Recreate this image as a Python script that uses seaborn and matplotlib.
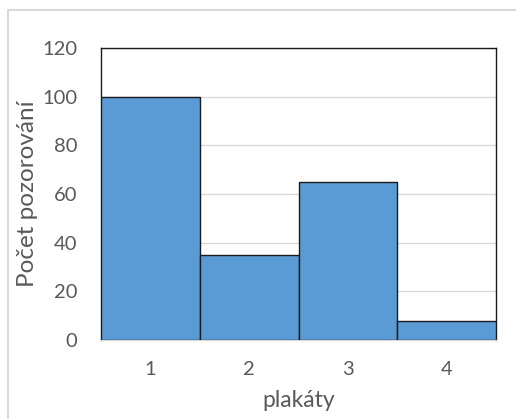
import matplotlib
matplotlib.use("Agg")
import matplotlib.pyplot as plt
import seaborn as sns
import pandas as pd
from matplotlib.lines import Line2D

categories = ["1", "2", "3", "4"]
values = [100, 35, 65, 8]
y_ticks = [0, 20, 40, 60, 80, 100, 120]

sns.set_style("white")
plt.rcParams['font.family'] = ['Lato', 'DejaVu Sans']

df = pd.DataFrame({"plakaty": categories, "pocet": values})

fig = plt.figure(figsize=(5.16, 4.19), dpi=100)
ax = fig.add_axes([101/516, 1-340/419, (496-101)/516, (340-48)/419])

sns.barplot(data=df, x="plakaty", y="pocet", ax=ax, color="#5B9BD5",
            saturation=1, width=1.0, edgecolor="#1a1a1a", linewidth=1.0, zorder=3)

ax.set_ylim(0, 120)
ax.set_xlim(-0.5, 3.5)
ax.set_yticks(y_ticks)
ax.yaxis.grid(True, color="#D9D9D9", linewidth=1.0, zorder=0)
ax.set_axisbelow(True)
ax.tick_params(axis="both", length=0, labelsize=14.5, labelcolor="#595959")
ax.tick_params(axis="y", pad=17)
ax.tick_params(axis="x", pad=15)
ax.set_xlabel("plakáty", fontsize=16.5, color="#595959", labelpad=9)
ax.set_ylabel("Počet pozorování", fontsize=17.5, color="#595959", labelpad=3)
for s in ["top", "left", "right"]:
    ax.spines[s].set_color("#1a1a1a")
    ax.spines[s].set_linewidth(1.0)
ax.spines["bottom"].set_color("#D9D9D9")
ax.spines["bottom"].set_linewidth(1.0)

# outer chart border (light gray)
fig.add_artist(Line2D([8/516, 8/516], [0, 1-10/419], color="#D9D9D9", linewidth=1.5, transform=fig.transFigure))
fig.add_artist(Line2D([8/516, 1], [1-10/419, 1-10/419], color="#D9D9D9", linewidth=1.5, transform=fig.transFigure))

fig.savefig("out.png", dpi=100)
